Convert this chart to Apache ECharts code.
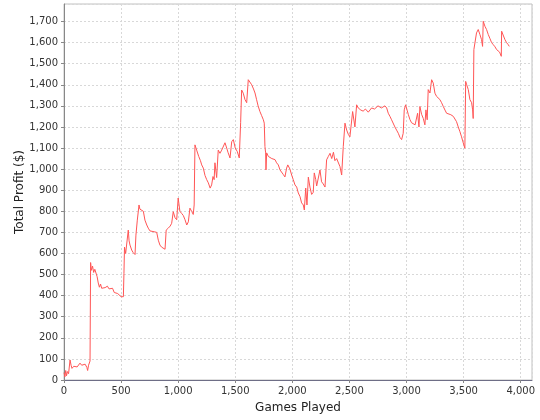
<!DOCTYPE html>
<html>
<head>
<meta charset="utf-8">
<script src="https://cdn.jsdelivr.net/npm/echarts@6/dist/echarts.min.js"></script>
<style>
html,body{margin:0;padding:0;background:#fff;}
#chart{width:540px;height:420px;}
</style>
</head>
<body>
<div id="chart"></div>
<script>
const games = [0,8,15,22,30,40,53,62,70,85,100,115,130,140,155,170,185,200,207,215,228,233,240,250,260,270,280,290,300,310,320,330,345,360,380,395,410,425,440,455,470,485,500,510,520,525,530,540,549,563,570,578,593,605,622,630,642,657,665,680,695,709,725,738,753,770,790,812,826,840,855,870,885,893,895,913,930,943,957,972,987,1000,1015,1030,1045,1060,1075,1089,1103,1118,1132,1140,1147,1162,1180,1195,1206,1220,1235,1250,1264,1280,1293,1305,1315,1322,1337,1351,1366,1381,1395,1410,1425,1436,1454,1469,1483,1500,1518,1535,1547,1556,1570,1585,1600,1614,1629,1644,1660,1673,1687,1700,1716,1730,1746,1754,1760,1766,1769,1775,1790,1805,1820,1835,1848,1862,1877,1892,1906,1920,1935,1950,1960,1979,1994,2008,2023,2038,2052,2067,2081,2096,2105,2117,2128,2140,2154,2169,2183,2192,2205,2213,2227,2242,2256,2270,2286,2300,2315,2330,2345,2360,2373,2388,2402,2417,2432,2446,2461,2476,2490,2504,2519,2528,2548,2563,2577,2600,2620,2640,2665,2694,2720,2750,2780,2811,2826,2840,2855,2869,2884,2898,2913,2928,2943,2957,2971,2980,2992,3005,3015,3030,3044,3059,3075,3088,3097,3109,3117,3132,3147,3161,3170,3181,3190,3205,3220,3234,3249,3263,3278,3292,3307,3322,3337,3351,3366,3388,3410,3424,3438,3453,3468,3482,3497,3511,3518,3527,3541,3555,3570,3579,3584,3590,3599,3613,3628,3643,3657,3666,3672,3687,3701,3716,3730,3745,3760,3775,3789,3803,3815,3824,3830,3833,3848,3862,3876,3891,3900];
const profit = [35,15,45,20,40,30,95,70,55,65,58,62,70,80,70,65,75,60,45,70,90,557,520,540,510,525,530,490,460,440,455,435,440,438,445,432,440,435,415,420,410,405,395,400,395,505,630,600,592,711,660,640,616,605,595,687,758,830,810,815,800,758,735,720,707,705,703,700,663,640,630,625,620,618,711,720,730,743,798,770,760,863,800,790,780,760,735,750,815,800,785,830,1115,1090,1060,1040,1020,1005,970,950,935,910,925,965,950,1030,960,1090,1075,1090,1095,1125,1100,1080,1053,1130,1140,1100,1083,1053,1220,1375,1360,1330,1315,1424,1420,1400,1380,1361,1329,1300,1273,1255,1234,1218,1107,1077,996,1077,1060,1068,1050,1055,1045,1030,1020,996,988,975,963,1005,1020,1000,972,950,925,915,887,870,840,830,806,910,830,962,915,880,890,982,950,920,925,996,940,930,915,1044,1060,1075,1050,1080,1040,1050,1044,1012,972,1107,1218,1185,1165,1153,1150,1273,1200,1305,1290,1280,1275,1285,1270,1290,1285,1300,1290,1300,1290,1265,1250,1234,1225,1200,1185,1170,1150,1140,1170,1281,1305,1280,1260,1235,1220,1220,1210,1215,1265,1200,1297,1260,1240,1210,1281,1234,1377,1361,1424,1408,1360,1345,1345,1330,1315,1297,1280,1265,1265,1258,1250,1250,1225,1200,1177,1153,1124,1099,1416,1400,1377,1330,1315,1281,1240,1567,1575,1646,1662,1638,1614,1582,1701,1677,1662,1638,1620,1600,1590,1580,1567,1558,1555,1550,1535,1654,1646,1614,1600,1590,1582];

const xName = 'Games Played';
const yName = 'Total Profit ($)';

const fmt = v => v.toLocaleString('en-US');
const FONT = 'DejaVu Sans';

const chart = echarts.init(document.getElementById('chart'));
chart.setOption({
  animation: false,
  backgroundColor: '#ffffff',
  grid: {left: 64, top: 4, right: 8, bottom: 40, show: true, borderColor: '#c0c0c0', borderWidth: 1, backgroundColor: '#ffffff'},
  xAxis: {
    type: 'value', min: 0, max: 4099, interval: 500,
    name: xName, nameLocation: 'middle', nameGap: 22, nameMoveOverlap: false,
    nameTextStyle: {fontFamily: FONT, fontSize: 12, color: '#222'},
    axisLine: {show: true, lineStyle: {color: '#6e6e86', width: 1}},
    axisTick: {show: true, length: 3, inside: false, lineStyle: {color: '#888'}},
    axisLabel: {formatter: fmt, fontFamily: FONT, fontSize: 10, color: '#333', margin: 6, showMaxLabel: false},
    splitLine: {show: true, lineStyle: {color: '#d8d8d8', type: [2, 2], width: 1}}
  },
  yAxis: {
    type: 'value', min: 0, max: 1783, interval: 100,
    name: yName, nameLocation: 'middle', nameGap: 38, nameMoveOverlap: false,
    nameTextStyle: {fontFamily: FONT, fontSize: 12, color: '#222'},
    axisLine: {show: true, lineStyle: {color: '#888888', width: 1}},
    axisTick: {show: true, length: 3, inside: false, lineStyle: {color: '#888'}},
    axisLabel: {formatter: fmt, fontFamily: FONT, fontSize: 10, color: '#333', margin: 6, showMaxLabel: false},
    splitLine: {show: true, lineStyle: {color: '#d8d8d8', type: [2, 2], width: 1}}
  },
  series: [{
    type: 'line',
    data: games.map((g, i) => [g, profit[i]]),
    showSymbol: false,
    symbol: 'none',
    lineStyle: {color: '#ff5555', width: 1},
    itemStyle: {color: '#ff5555'}
  }]
});
</script>
</body>
</html>
